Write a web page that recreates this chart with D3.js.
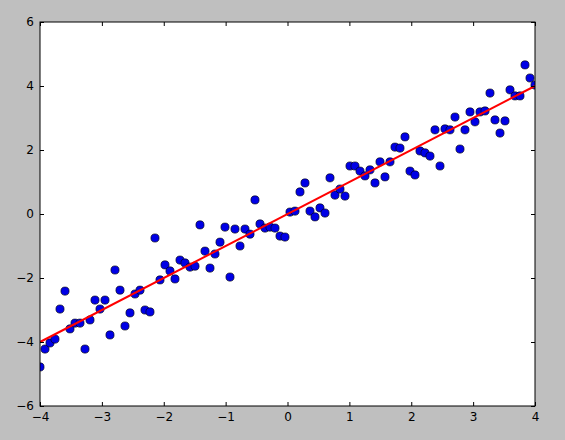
<!DOCTYPE html>
<html>
<head>
<meta charset="utf-8">
<script src="https://cdn.jsdelivr.net/npm/d3@7"></script>
<style>
  body { margin: 0; background: #bfbfbf; }
  svg { display: block; }
  .tick text { font-family: "DejaVu Sans", sans-serif; font-size: 12px; fill: #000; }
</style>
</head>
<body>
<div id="container"></div>
<script>
// noisy samples along y = x, 100 points evenly spaced on [-4, 4]
const yValues = [
  -4.78, -4.22, -4.03, -3.91, -2.97, -2.41, -3.59, -3.41, -3.41, -4.22,
  -3.31, -2.69, -2.97, -2.69, -3.78, -1.75, -2.38, -3.50, -3.09, -2.50,
  -2.38, -3.00, -3.06, -0.75, -2.06, -1.59, -1.78, -2.03, -1.44, -1.53,
  -1.66, -1.63, -0.34, -1.16, -1.69, -1.25, -0.88, -0.41, -1.97, -0.47,
  -1.00, -0.47, -0.63, 0.44, -0.31, -0.44, -0.41, -0.44, -0.69, -0.72,
  0.06, 0.09, 0.69, 0.97, 0.09, -0.09, 0.19, 0.03, 1.13, 0.59,
  0.78, 0.56, 1.50, 1.50, 1.34, 1.19, 1.38, 0.97, 1.63, 1.16,
  1.63, 2.09, 2.06, 2.41, 1.34, 1.22, 1.97, 1.91, 1.81, 2.63,
  1.50, 2.66, 2.63, 3.03, 2.03, 2.63, 3.19, 2.88, 3.19, 3.22,
  3.78, 2.94, 2.53, 2.91, 3.88, 3.69, 3.69, 4.66, 4.25, 4.03
];
const xStart = -4;
const xEnd = 4;
const fitLine = [[-4, -4], [4, 4]];
const xTicks = [-4, -3, -2, -1, 0, 1, 2, 3, 4];
const yTicks = [-6, -4, -2, 0, 2, 4, 6];

const points = yValues.map((y, i) => {
  return [xStart + i * (xEnd - xStart) / (yValues.length - 1), y];
});

const w = 565;
const h = 440;
const margin = { top: 22, right: 30, bottom: 34, left: 40 };

const svg = d3.select('#container')
  .append('svg')
  .attr('width', w)
  .attr('height', h);

const x = d3.scaleLinear().domain([-4, 4]).range([margin.left, w - margin.right]);
const y = d3.scaleLinear().domain([-6, 6]).range([h - margin.bottom, margin.top]);

const fmt = d => (d < 0 ? '\u2212' + Math.abs(d) : String(d));

svg.append('rect')
  .attr('x', margin.left)
  .attr('y', margin.top)
  .attr('width', x(4) - x(-4))
  .attr('height', y(-6) - y(6))
  .attr('fill', '#fff');

svg.append('clipPath')
  .attr('id', 'clip')
  .append('rect')
  .attr('x', margin.left)
  .attr('y', margin.top)
  .attr('width', x(4) - x(-4))
  .attr('height', y(-6) - y(6));

const plot = svg.append('g').attr('clip-path', 'url(#clip)');

plot.selectAll('circle')
  .data(points)
  .enter()
  .append('circle')
  .attr('cx', d => x(d[0]))
  .attr('cy', d => y(d[1]))
  .attr('r', 4.1)
  .attr('fill', '#0000e6')
  .attr('stroke', '#000')
  .attr('stroke-width', 0.6);

plot.append('path')
  .datum(fitLine)
  .attr('d', d3.line().x(d => x(d[0])).y(d => y(d[1])))
  .attr('fill', 'none')
  .attr('stroke', '#ff0000')
  .attr('stroke-width', 2);

// axes: ticks point inward, on all four sides
svg.append('g')
  .attr('transform', `translate(0,${y(-6)})`)
  .call(d3.axisBottom(x).tickValues(xTicks).tickFormat(fmt).tickSizeInner(-4).tickSizeOuter(0).tickPadding(6));
svg.append('g')
  .attr('transform', `translate(0,${y(6)})`)
  .call(d3.axisTop(x).tickValues(xTicks).tickFormat('').tickSizeInner(-4).tickSizeOuter(0));
svg.append('g')
  .attr('transform', `translate(${x(-4)},0)`)
  .call(d3.axisLeft(y).tickValues(yTicks).tickFormat(fmt).tickSizeInner(-4).tickSizeOuter(0).tickPadding(6));
svg.append('g')
  .attr('transform', `translate(${x(4)},0)`)
  .call(d3.axisRight(y).tickValues(yTicks).tickFormat('').tickSizeInner(-4).tickSizeOuter(0));

svg.selectAll('.domain').remove();

svg.append('rect')
  .attr('x', margin.left)
  .attr('y', margin.top)
  .attr('width', x(4) - x(-4))
  .attr('height', y(-6) - y(6))
  .attr('fill', 'none')
  .attr('stroke', '#000')
  .attr('stroke-width', 1);
</script>
</body>
</html>
